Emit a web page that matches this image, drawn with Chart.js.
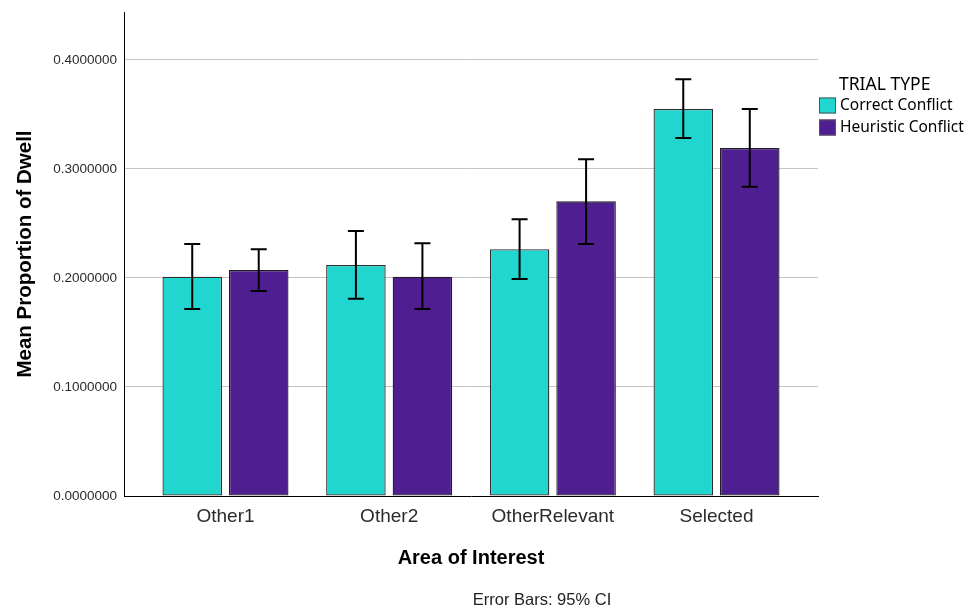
<!DOCTYPE html>
<html>
<head>
<meta charset="utf-8">
<title>Mean Proportion of Dwell by Area of Interest</title>
<script src="https://cdn.jsdelivr.net/npm/chart.js@4/dist/chart.umd.min.js"></script>
<style>
  html, body { margin: 0; padding: 0; background: #ffffff; }
  #wrap { width: 968px; height: 610px; position: relative; }
</style>
</head>
<body>
<div id="wrap"><canvas id="chart" width="968" height="610"></canvas></div>
<script>
// Areas of interest on the x axis
const areas = ['Other1', 'Other2', 'OtherRelevant', 'Selected'];

// Trial types (legend)
const legendTitle = 'TRIAL TYPE';
const seriesNames = ['Correct Conflict', 'Heuristic Conflict'];

// Mean proportion of dwell time
const correctMean   = [0.2012, 0.2119, 0.2263, 0.3550];
const heuristicMean = [0.2073, 0.2012, 0.2703, 0.3193];

// 95% confidence interval bounds
const correctLow    = [0.1716, 0.1810, 0.1991, 0.3284];
const correctHigh   = [0.2312, 0.2431, 0.2538, 0.3823];
const heuristicLow  = [0.1881, 0.1716, 0.2312, 0.2838];
const heuristicHigh = [0.2263, 0.2318, 0.3089, 0.3550];

// Y axis ticks
const yTicks = [0, 0.1, 0.2, 0.3, 0.4];
const yMax = 0.444;

const footNote = 'Error Bars: 95% CI';

const TEAL = '#22D6D0';
const PURPLE = '#4F1F91';

// Extra room on both sides of the category axis (in category units)
const CAT_PAD = 0.12;

// Draws the confidence interval whiskers on top of each bar
const errorBarPlugin = {
  id: 'errorBars',
  afterDatasetsDraw(chart) {
    const ctx = chart.ctx;
    const y = chart.scales.y;
    chart.data.datasets.forEach((ds, i) => {
      const meta = chart.getDatasetMeta(i);
      if (meta.hidden) return;
      meta.data.forEach((bar, j) => {
        const x = bar.x;
        const top = y.getPixelForValue(ds.ciHigh[j]);
        const bot = y.getPixelForValue(ds.ciLow[j]);
        const half = 8;
        ctx.save();
        ctx.strokeStyle = '#000000';
        ctx.lineWidth = 2;
        ctx.beginPath();
        ctx.moveTo(x, top); ctx.lineTo(x, bot);
        ctx.moveTo(x - half, top); ctx.lineTo(x + half, top);
        ctx.moveTo(x - half, bot); ctx.lineTo(x + half, bot);
        ctx.stroke();
        ctx.restore();
      });
    });
  }
};

// Legend block on the right and the note under the chart
const sideTextPlugin = {
  id: 'sideText',
  afterDraw(chart) {
    const ctx = chart.ctx;
    ctx.save();
    ctx.textBaseline = 'middle';
    ctx.textAlign = 'left';
    ctx.fillStyle = '#000000';
    ctx.font = '17.5px "Noto Sans"';
    ctx.fillText(legendTitle, 839, 85);
    ctx.font = '15.5px "Noto Sans"';
    chart.data.datasets.forEach((ds, i) => {
      const cy = 105.5 + i * 22;
      ctx.fillStyle = ds.backgroundColor;
      ctx.fillRect(819, cy - 8, 17, 16);
      ctx.strokeStyle = '#555555';
      ctx.lineWidth = 1;
      ctx.strokeRect(819.5, cy - 7.5, 16, 15);
      ctx.fillStyle = '#000000';
      ctx.fillText(ds.label, 840, cy);
    });
    ctx.font = '16.5px "Liberation Sans", Arial, sans-serif';
    ctx.textAlign = 'center';
    ctx.fillStyle = '#222222';
    ctx.fillText(footNote, 542, 600);
    ctx.restore();
  }
};

new Chart(document.getElementById('chart'), {
  type: 'bar',
  data: {
    labels: areas,
    datasets: [
      {
        label: seriesNames[0],
        data: correctMean,
        ciLow: correctLow,
        ciHigh: correctHigh,
        backgroundColor: TEAL,
        borderColor: '#2e2e2e',
        borderWidth: 1.3,
        borderSkipped: false
      },
      {
        label: seriesNames[1],
        data: heuristicMean,
        ciLow: heuristicLow,
        ciHigh: heuristicHigh,
        backgroundColor: PURPLE,
        borderColor: '#1e1e1e',
        borderWidth: 1.3,
        borderSkipped: false
      }
    ]
  },
  options: {
    responsive: false,
    devicePixelRatio: 1,
    animation: false,
    events: [],
    categoryPercentage: 0.8126,
    barPercentage: 0.895,
    layout: { padding: { top: 12, right: 150, bottom: 0, left: 0 } },
    plugins: {
      legend: { display: false },
      tooltip: { enabled: false }
    },
    scales: {
      x: {
        type: 'category',
        offset: true,
        grid: { display: false, drawTicks: false },
        border: { display: true, color: '#000000', width: 1 },
        ticks: {
          font: { family: '"Liberation Sans", Arial, sans-serif', size: 19 },
          color: '#2b2b2b',
          padding: 9,
          maxRotation: 0
        },
        title: {
          display: true,
          text: 'Area of Interest',
          color: '#000000',
          font: { family: '"Liberation Sans", Arial, sans-serif', size: 20, weight: 'bold' },
          padding: { top: 0, bottom: 40 }
        },
        afterBuildTicks(scale) {
          scale._startValue -= CAT_PAD;
          scale._valueRange += 2 * CAT_PAD;
        },
        afterFit(scale) {
          scale.height = 114;
          scale.paddingLeft = 0;
          scale.paddingRight = 0;
        }
      },
      y: {
        min: 0,
        max: yMax,
        grid: {
          drawTicks: false,
          lineWidth: 1,
          color: (c) => (c.tick && c.tick.value === 0 ? 'rgba(0,0,0,0)' : '#c4c4c4')
        },
        border: { display: true, color: '#000000', width: 1 },
        ticks: {
          stepSize: 0.1,
          font: { family: '"Liberation Sans", Arial, sans-serif', size: 13.5 },
          color: '#2b2b2b',
          padding: 7,
          callback: (v) => Number(v).toFixed(7)
        },
        title: {
          display: true,
          text: 'Mean Proportion of Dwell',
          color: '#000000',
          font: { family: '"Liberation Sans", Arial, sans-serif', size: 20.5, weight: 'bold' },
          padding: { top: 13, bottom: 0 }
        },
        afterBuildTicks(scale) {
          scale.ticks = yTicks.map((v) => ({ value: v }));
        },
        afterFit(scale) {
          scale.width = 124;
          scale.paddingTop = 0;
          scale.paddingBottom = 0;
        }
      }
    }
  },
  plugins: [errorBarPlugin, sideTextPlugin]
});
</script>
</body>
</html>
